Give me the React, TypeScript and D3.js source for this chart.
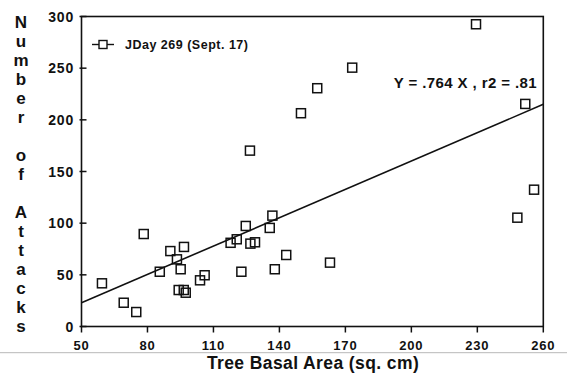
import React from "react";
import * as d3 from "d3";

const basalArea = [59.3, 78.3, 69.2, 74.9, 85.6, 90.4, 96.6, 93.4, 95.1, 94.2, 96.5, 97.4, 103.9, 106, 117.8, 120.6, 124.7, 136.8, 135.6, 126.8, 128.9, 122.7, 137.9, 143.1, 163, 126.6, 149.8, 157.2, 173.1, 229.4, 251.8, 255.8, 248.2];
const attacks = [41.8, 89.5, 23, 14, 53, 73, 77, 65, 55.4, 35.3, 35.3, 32.7, 44.7, 49.6, 81, 84.4, 97.3, 107.3, 95.4, 80.2, 81.5, 53, 55.4, 69.2, 61.8, 170.2, 206.4, 230.6, 250.5, 292.5, 215.4, 132.4, 105.3];
const fitX = [50, 260];
const fitY = [23, 215];
const xTicks = [50, 80, 110, 140, 170, 200, 230, 260];
const yTicks = [0, 50, 100, 150, 200, 250, 300];
const yTitle = ["N", "u", "m", "b", "e", "r", "", "o", "f", "", "A", "t", "t", "a", "c", "k", "s"];
const legendLabel = "JDay 269 (Sept. 17)";
const equation = "Y = .764 X , r2 = .81";
const xTitle = "Tree Basal Area (sq. cm)";

const W = 567;
const H = 382;
const left = 81.5, right = 543.3, top = 16.5, bottom = 326.5;
const font = "'Liberation Sans', Arial, Helvetica, sans-serif";

export default function App() {
  const x = d3.scaleLinear().domain([50, 260]).range([left, right]);
  const y = d3.scaleLinear().domain([0, 300]).range([bottom, top]);
  const line = d3.line<number>().x((d) => x(d)).y((_, i) => y(fitY[i]));
  const sq = 9;
  const ink = "#111";

  return (
    <svg width={W} height={H} style={{ position: "absolute", left: 0, top: 0, background: "#fff" }} fontFamily={font}>
      <rect x={0} y={0} width={W} height={H} fill="#fff" />
      {/* scan artifact line */}
      <line x1={0} x2={W} y1={352.7} y2={352.7} stroke="#b8b8b8" strokeWidth={1} />
      {/* frame */}
      <rect x={left} y={top} width={right - left} height={bottom - top} fill="none" stroke={ink} strokeWidth={1.6} />
      {/* y ticks */}
      {yTicks.map((t) => (
        <g key={"y" + t}>
          <line x1={left - 2} x2={left + 5} y1={y(t)} y2={y(t)} stroke={ink} strokeWidth={1.5} />
          <text x={74} y={y(t) + 5} textAnchor="end" fontSize={14} fontWeight="bold" fill={ink} letterSpacing={0.8}>
            {t}
          </text>
        </g>
      ))}
      {/* x ticks */}
      {xTicks.map((t) => (
        <g key={"x" + t}>
          <line x1={x(t)} x2={x(t)} y1={bottom} y2={bottom + 6} stroke={ink} strokeWidth={1.5} />
          <text x={x(t)} y={349.5} textAnchor="middle" fontSize={13} fontWeight="bold" fill={ink} letterSpacing={0.8}>
            {t}
          </text>
        </g>
      ))}
      {/* regression line */}
      <path d={line(fitX) || ""} fill="none" stroke={ink} strokeWidth={1.6} />
      {/* points */}
      {basalArea.map((b, i) => (
        <rect key={"p" + i} x={x(b) - sq / 2} y={y(attacks[i]) - sq / 2} width={sq} height={sq} fill="none" stroke={ink} strokeWidth={1.5} />
      ))}
      {/* legend */}
      <line x1={92} x2={114} y1={44.5} y2={44.5} stroke={ink} strokeWidth={1.4} />
      <rect x={99} y={40.5} width={8} height={8} fill="#fff" stroke={ink} strokeWidth={1.4} />
      <text x={125} y={49} fontSize={12.5} fontWeight="bold" fill={ink} letterSpacing={0.5}>
        {legendLabel}
      </text>
      {/* equation */}
      <text x={537} y={87.5} textAnchor="end" fontSize={15} fontWeight="bold" fill={ink} letterSpacing={0.4}>
        {equation}
      </text>
      {/* y title */}
      {yTitle.map((c, i) => (
        <text key={"t" + i} x={21} y={28 + i * 19} textAnchor="middle" fontSize={17} fontWeight="bold" fill={ink}>
          {c}
        </text>
      ))}
      {/* x title */}
      <text x={313} y={368.5} textAnchor="middle" fontSize={17.5} fontWeight="bold" fill={ink} letterSpacing={0.4}>
        {xTitle}
      </text>
    </svg>
  );
}
